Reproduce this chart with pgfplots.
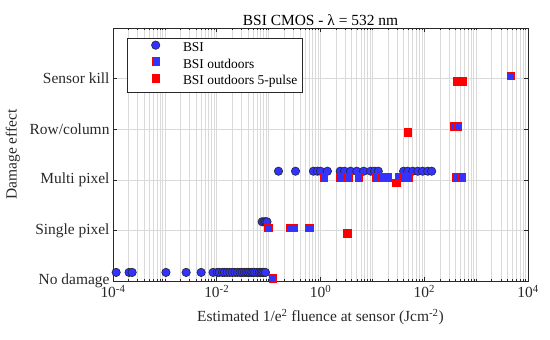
\documentclass[border=0pt]{standalone}
\usepackage{pgfplots}
\pgfplotsset{compat=1.18}
\usepackage{fontspec}
\setmainfont{Liberation Serif}
\definecolor{bsiblue}{RGB}{51,51,255}
\definecolor{axgray}{RGB}{40,40,40}
\definecolor{gridgray}{RGB}{218,218,218}
\pgfplotsset{myleg/.style={legend image code/.code={\draw[#1] plot coordinates {(26bp,3.5bp)};
  \path (0bp,0bp) (50bp,0bp);}}}
\begin{document}
\begin{tikzpicture}
\begin{axis}[
  name=ax,
  scale only axis, width=415bp, height=253bp,
  xmode=log, xmin=1e-4, xmax=1e4,
  ymin=0, ymax=5,
  xtick={1e-4,1e-2,1,1e2,1e4},
  xticklabels={10\textsuperscript{-4},10\textsuperscript{-2},10\textsuperscript{0},10\textsuperscript{2},10\textsuperscript{4}},
  minor xtick={2e-4,3e-4,4e-4,5e-4,6e-4,7e-4,8e-4,9e-4,
               1e-3,2e-3,3e-3,4e-3,5e-3,6e-3,7e-3,8e-3,9e-3,
               2e-2,3e-2,4e-2,5e-2,6e-2,7e-2,8e-2,9e-2,
               1e-1,2e-1,3e-1,4e-1,5e-1,6e-1,7e-1,8e-1,9e-1,
               2,3,4,5,6,7,8,9,
               10,20,30,40,50,60,70,80,90,
               200,300,400,500,600,700,800,900,
               1000,2000,3000,4000,5000,6000,7000,8000,9000},
  ytick={0,1,2,3,4},
  yticklabels={No damage,Single pixel,Multi pixel,Row/column,Sensor kill},
  tick align=inside,
  major tick length=4bp, minor tick length=2bp,
  every tick/.style={axgray, line width=0.5pt},
  axis line style={axgray, line width=0.6pt},
  xmajorgrids, xminorgrids, ymajorgrids,
  major grid style={gridgray, line width=0.6pt},
  minor grid style={gridgray, line width=0.6pt},
  font=\fontsize{15.5}{18}\selectfont,
  tick label style={font=\fontsize{15.5}{18}\selectfont, text=axgray},
  xticklabel style={yshift=-1bp},
  title={BSI CMOS - λ = 532 nm},
  title style={font=\fontsize{15.5}{18}\selectfont, yshift=-7bp},
  xlabel={Estimated 1/e\textsuperscript{2} fluence at sensor (Jcm\textsuperscript{-2})},
  xlabel style={yshift=-4bp},
  ylabel={Damage effect},
  ylabel style={yshift=3bp},
  label style={text=axgray},
  legend style={at={(rel axis cs:0.034,0.96)}, anchor=north west, draw=axgray,
    font=\fontsize{13.5}{15}\selectfont, line width=0.6pt,
    inner xsep=2bp, inner ysep=2bp, row sep=0bp,
    nodes={inner xsep=3bp, inner ysep=2bp, text height=9.5bp, text depth=3bp}},
  legend cell align=left,
]
% BSI (circles)
\addplot[only marks, myleg, mark=*, mark size=4.2bp, mark options={fill=bsiblue, draw=black!85, line width=0.6pt}] coordinates {
(0.000115,0.17) (0.000204,0.17) (0.000234,0.17) (0.00105,0.17) (0.00257,0.17) (0.0050,0.17)
(0.0085,0.17) (0.0102,0.17) (0.0112,0.17) (0.0129,0.17) (0.0141,0.17) (0.0158,0.17) (0.0178,0.17)
(0.020,0.17) (0.0224,0.17) (0.0251,0.17) (0.0282,0.17) (0.031,0.17) (0.034,0.17) (0.037,0.17)
(0.040,0.17) (0.043,0.17) (0.047,0.17) (0.050,0.17) (0.054,0.17) (0.060,0.17) (0.066,0.17)
(0.071,0.17) (0.076,0.17) (0.081,0.17) (0.087,0.17)
(0.075,1.17) (0.082,1.17) (0.088,1.17) (0.093,1.17)
(0.155,2.17) (0.33,2.17) (0.73,2.17) (0.87,2.17) (1.0,2.17) (1.36,2.17) (2.4,2.17) (2.9,2.17)
(3.8,2.17) (5.0,2.17) (6.8,2.17) (9.3,2.17) (11,2.17) (13,2.17) (40,2.17) (48,2.17) (60,2.17)
(75,2.17) (93,2.17) (117,2.17) (139,2.17)
};
\addlegendentry{BSI}
% BSI outdoors
\addplot[only marks, myleg, mark=square*, mark size=3.8bp, mark options={fill=bsiblue, draw=red, line width=0.8pt}] coordinates {
(0.12,0.05)
(0.10,1.05) (0.26,1.05) (0.30,1.05) (0.61,1.05)
(1.16,2.05) (2.43,2.05) (3.52,2.05) (5.5,2.05) (12.1,2.05) (15.6,2.05) (19.4,2.05)
(32.6,2.05) (40.7,2.05) (50.8,2.05) (406,2.05) (531,2.05)
(372,3.05) (444,3.05)
(4690,4.05)
};
\addlegendentry{BSI outdoors}
% BSI outdoors 5-pulse
\addplot[only marks, myleg, mark=square*, mark size=3.8bp, mark options={fill=red, draw=red, line width=0.8pt}] coordinates {
(3.3,0.94)
(29.4,1.94)
(48,2.94)
(425,3.94) (555,3.94)
};
\addlegendentry{BSI outdoors 5-pulse}
\end{axis}
\pgfresetboundingbox
\path[use as bounding box] (ax.south west) ++(-113bp,-59bp) rectangle ++(550bp,340bp);
\end{tikzpicture}
\end{document}
